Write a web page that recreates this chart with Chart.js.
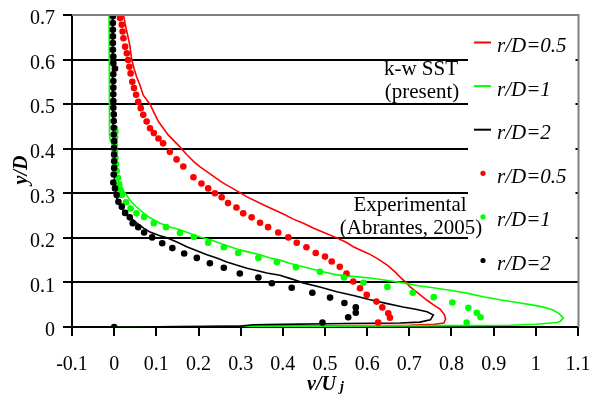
<!DOCTYPE html>
<html><head><meta charset="utf-8">
<script src="https://cdn.jsdelivr.net/npm/chart.js@4.4.0/dist/chart.umd.min.js"></script>
<style>html,body{margin:0;padding:0;background:#fff;}canvas{display:block;}</style>
</head><body>
<canvas id="c" width="590" height="396"></canvas>
<script>
// ---------- data ----------
const xTickValues = [-0.1, 0, 0.1, 0.2, 0.3, 0.4, 0.5, 0.6, 0.7, 0.8, 0.9, 1, 1.1];
const xTickLabels = ['-0.1', '0', '0.1', '0.2', '0.3', '0.4', '0.5', '0.6', '0.7', '0.8', '0.9', '1', '1.1'];
const yTickValues = [0, 0.1, 0.2, 0.3, 0.4, 0.5, 0.6, 0.7];
const yTickLabels = ['0', '0.1', '0.2', '0.3', '0.4', '0.5', '0.6', '0.7'];
const seriesLabels = ['r/D=0.5', 'r/D=1', 'r/D=2', 'r/D=0.5', 'r/D=1', 'r/D=2'];
const groupLabels = [['k-w SST', '(present)'], ['Experimental', '(Abrantes, 2005)']];
const xTitle = 'v/U';
const xTitleSub = 'j';
const yTitle = 'y/D';

// k-w SST (present), [v/Uj, y/D]
const simR05 = [[0.022,0.700],[0.026,0.680],[0.030,0.663],[0.037,0.633],[0.041,0.603],[0.047,0.580],[0.053,0.562],[0.061,0.543],[0.069,0.520],[0.085,0.500],[0.095,0.480],[0.105,0.461],[0.128,0.431],[0.152,0.408],[0.173,0.386],[0.190,0.370],[0.203,0.360],[0.230,0.342],[0.255,0.325],[0.283,0.310],[0.315,0.292],[0.345,0.278],[0.370,0.267],[0.400,0.254],[0.425,0.242],[0.450,0.232],[0.472,0.222],[0.500,0.211],[0.528,0.200],[0.550,0.190],[0.567,0.180],[0.590,0.170],[0.607,0.163],[0.630,0.150],[0.650,0.137],[0.668,0.122],[0.680,0.110],[0.692,0.100],[0.702,0.090],[0.722,0.075],[0.742,0.060],[0.760,0.048],[0.773,0.040],[0.783,0.028],[0.786,0.018],[0.782,0.009],[0.760,0.006],[0.700,0.004],[0.600,0.003],[0.400,0.002],[0.200,0.001],[0.000,0.000]];
const simR1 = [[-0.012,0.700],[-0.012,0.600],[-0.011,0.500],[-0.010,0.430],[-0.009,0.418],[-0.005,0.412],[-0.004,0.380],[-0.002,0.350],[0.003,0.335],[0.009,0.330],[0.015,0.318],[0.021,0.307],[0.030,0.295],[0.037,0.285],[0.050,0.272],[0.069,0.256],[0.085,0.245],[0.109,0.233],[0.130,0.225],[0.156,0.218],[0.180,0.210],[0.204,0.202],[0.230,0.195],[0.251,0.188],[0.275,0.180],[0.298,0.173],[0.320,0.168],[0.346,0.162],[0.370,0.155],[0.393,0.150],[0.420,0.142],[0.448,0.135],[0.490,0.125],[0.528,0.117],[0.570,0.113],[0.607,0.110],[0.645,0.105],[0.685,0.099],[0.725,0.092],[0.757,0.088],[0.800,0.082],[0.836,0.076],[0.875,0.068],[0.915,0.061],[0.955,0.055],[0.994,0.049],[1.020,0.044],[1.041,0.038],[1.055,0.030],[1.065,0.020],[1.058,0.013],[1.050,0.010],[1.000,0.006],[0.940,0.004],[0.800,0.003],[0.500,0.002],[0.200,0.001],[0.000,0.000]];
const simR2 = [[-0.004,0.700],[-0.004,0.600],[-0.003,0.500],[-0.002,0.420],[-0.001,0.380],[0.000,0.340],[0.003,0.310],[0.007,0.285],[0.014,0.272],[0.021,0.262],[0.035,0.248],[0.054,0.233],[0.070,0.222],[0.085,0.213],[0.105,0.206],[0.125,0.200],[0.150,0.190],[0.172,0.180],[0.196,0.171],[0.220,0.162],[0.245,0.154],[0.267,0.146],[0.290,0.139],[0.315,0.132],[0.340,0.126],[0.362,0.121],[0.393,0.116],[0.420,0.108],[0.448,0.099],[0.490,0.089],[0.528,0.079],[0.570,0.070],[0.607,0.061],[0.645,0.053],[0.685,0.045],[0.715,0.040],[0.742,0.034],[0.757,0.027],[0.750,0.016],[0.725,0.011],[0.678,0.009],[0.550,0.008],[0.400,0.006],[0.330,0.005],[0.300,0.002],[0.200,0.001],[0.000,0.000]];

// Experimental (Abrantes, 2005), [v/Uj, y/D]
const expR05 = [[0.014,0.693],[0.018,0.678],[0.020,0.663],[0.022,0.648],[0.026,0.629],[0.030,0.614],[0.033,0.599],[0.036,0.584],[0.039,0.569],[0.043,0.550],[0.047,0.536],[0.052,0.521],[0.057,0.505],[0.063,0.491],[0.069,0.476],[0.077,0.461],[0.085,0.446],[0.094,0.435],[0.105,0.423],[0.116,0.412],[0.132,0.393],[0.148,0.376],[0.164,0.360],[0.188,0.336],[0.207,0.322],[0.223,0.311],[0.239,0.300],[0.255,0.291],[0.270,0.278],[0.290,0.268],[0.306,0.255],[0.326,0.246],[0.346,0.234],[0.365,0.224],[0.389,0.212],[0.413,0.201],[0.433,0.189],[0.456,0.179],[0.478,0.166],[0.500,0.158],[0.516,0.147],[0.535,0.135],[0.551,0.120],[0.567,0.102],[0.583,0.087],[0.599,0.072],[0.622,0.057],[0.636,0.044],[0.650,0.031],[0.654,0.021],[0.626,0.010]];
const expR1 = [[0.002,0.445],[0.003,0.438],[0.002,0.425],[0.001,0.410],[0.002,0.395],[0.003,0.380],[0.004,0.365],[0.006,0.350],[0.009,0.335],[0.012,0.320],[0.015,0.308],[0.018,0.296],[0.028,0.280],[0.039,0.266],[0.053,0.255],[0.071,0.247],[0.094,0.233],[0.123,0.224],[0.156,0.211],[0.189,0.202],[0.223,0.189],[0.260,0.179],[0.294,0.166],[0.342,0.155],[0.386,0.146],[0.431,0.134],[0.488,0.124],[0.545,0.111],[0.591,0.099],[0.648,0.090],[0.708,0.077],[0.758,0.067],[0.802,0.055],[0.840,0.043],[0.860,0.032],[0.869,0.022],[0.836,0.010]];
const expR2 = [[-0.003,0.697],[-0.003,0.682],[-0.003,0.667],[-0.003,0.652],[-0.003,0.637],[-0.003,0.622],[-0.002,0.607],[-0.002,0.592],[0.002,0.580],[-0.002,0.567],[-0.002,0.552],[-0.002,0.537],[-0.002,0.522],[-0.002,0.507],[-0.002,0.492],[-0.001,0.477],[-0.001,0.462],[-0.001,0.447],[-0.001,0.432],[0.000,0.417],[0.000,0.402],[0.000,0.387],[0.000,0.372],[0.000,0.357],[-0.001,0.342],[-0.002,0.324],[0.002,0.311],[0.006,0.296],[0.010,0.281],[0.018,0.270],[0.026,0.256],[0.037,0.246],[0.044,0.233],[0.057,0.224],[0.071,0.212],[0.090,0.201],[0.114,0.188],[0.138,0.177],[0.166,0.165],[0.196,0.155],[0.227,0.143],[0.260,0.133],[0.298,0.120],[0.342,0.111],[0.374,0.098],[0.421,0.088],[0.470,0.077],[0.512,0.066],[0.546,0.054],[0.573,0.044],[0.573,0.032],[0.555,0.022],[0.494,0.010],[0.000,0.000]];

// ---------- styling ----------
const SERIF = "'Liberation Serif', 'Times New Roman', serif";
const RED = '#ff0000', GREEN = '#00ff00', BLACK = '#000000';
const toXY = arr => arr.map(p => ({x: p[0], y: p[1]}));

function lineDs(label, data, color, order) {
  return {label, data: toXY(data), showLine: true, borderColor: color, backgroundColor: color,
    borderWidth: 1.6, pointRadius: 0, tension: 0, order, kind: 'line'};
}
function dotDs(label, data, color, order) {
  return {label, data: toXY(data), showLine: false, pointRadius: 3.3, pointBorderWidth: 0,
    pointBackgroundColor: color, backgroundColor: color, borderColor: color, order, kind: 'dot'};
}

const datasets = [
  lineDs(seriesLabels[0], simR05, RED, 6),
  lineDs(seriesLabels[1], simR1, GREEN, 5),
  lineDs(seriesLabels[2], simR2, BLACK, 4),
  dotDs(seriesLabels[3], expR05, RED, 3),
  dotDs(seriesLabels[4], expR1, GREEN, 2),
  dotDs(seriesLabels[5], expR2, BLACK, 1)
];

const overlay = {
  id: 'overlay',
  beforeDatasetsDraw(chart) {
    const c = chart.ctx, a = chart.chartArea;
    c.save();
    c.fillStyle = '#fff';
    c.fillRect(468, a.top + 1, 575.5 - 468, 277 - a.top);
    c.restore();
  },
  afterDraw(chart) {
    const c = chart.ctx, a = chart.chartArea;
    c.save();
    // top & right frame
    c.strokeStyle = '#808080';
    c.lineWidth = 2;
    c.beginPath();
    c.moveTo(a.left, a.top);
    c.lineTo(a.right + 0.5, a.top);
    c.lineTo(a.right + 0.5, a.bottom);
    c.stroke();

    // group annotations
    c.fillStyle = '#000';
    c.textAlign = 'center';
    c.textBaseline = 'alphabetic';
    c.font = '21px ' + SERIF;
    c.fillText(groupLabels[0][0], 421, 75);
    c.fillText(groupLabels[0][1], 422, 98);
    c.fillText(groupLabels[1][0], 410, 211);
    c.fillText(groupLabels[1][1], 411, 234);

    // legend
    c.textAlign = 'left';
    c.font = 'italic 21px ' + SERIF;
    chart.data.datasets.forEach((ds, i) => {
      const base = 52 + 43.6 * i;
      const my = base - 9.5;
      if (ds.kind === 'line') {
        c.strokeStyle = ds.borderColor;
        c.lineWidth = 2;
        c.beginPath();
        c.moveTo(474, my);
        c.lineTo(491, my);
        c.stroke();
      } else {
        c.fillStyle = ds.backgroundColor;
        c.beginPath();
        c.arc(483, my, 2.6, 0, Math.PI * 2);
        c.fill();
      }
      c.fillStyle = '#000';
      c.fillText(ds.label, 497, base);
    });

    // axis titles
    c.font = 'bold italic 20px ' + SERIF;
    c.textAlign = 'left';
    c.fillText(xTitle, 307, 390);
    const w = c.measureText(xTitle).width;
    c.font = 'bold italic 14px ' + SERIF;
    c.fillText(xTitleSub, 307 + w + 4, 391);

    c.translate(27, 170);
    c.rotate(-Math.PI / 2);
    c.font = 'bold italic 20px ' + SERIF;
    c.textAlign = 'center';
    c.fillText(yTitle, 0, 0);
    c.restore();
  }
};

new Chart(document.getElementById('c'), {
  type: 'scatter',
  data: {datasets},
  plugins: [overlay],
  options: {
    responsive: false,
    animation: false,
    events: [],
    layout: {padding: {left: 0, right: 12, top: 15, bottom: 0}},
    plugins: {legend: {display: false}, tooltip: {enabled: false}},
    scales: {
      x: {
        type: 'linear', min: -0.1, max: 1.1,
        afterBuildTicks: s => { s.ticks = xTickValues.map(v => ({value: v})); },
        afterFit: s => { s.height = 396 - 327; s.paddingLeft = 0; s.paddingRight = 0; s.paddingTop = 0; s.paddingBottom = 0; },
        ticks: {
          color: '#000', padding: 17, maxRotation: 0, autoSkip: false,
          font: {family: SERIF, size: 20},
          callback: (v, i) => xTickLabels[i]
        },
        grid: {drawOnChartArea: false, drawTicks: true, tickLength: 9, tickColor: '#000', tickWidth: 2, color: '#000', lineWidth: 2},
        border: {display: true, color: '#000', width: 2}
      },
      y: {
        type: 'linear', min: 0, max: 0.7,
        afterBuildTicks: s => { s.ticks = yTickValues.map(v => ({value: v})); },
        afterFit: s => { s.width = 72; s.paddingLeft = 0; s.paddingRight = 0; s.paddingTop = 0; s.paddingBottom = 0; },
        ticks: {
          color: '#000', padding: 8, labelOffset: 4, autoSkip: false,
          font: {family: SERIF, size: 20},
          callback: (v, i) => yTickLabels[i]
        },
        grid: {
          drawOnChartArea: true, drawTicks: true, tickLength: 9, tickColor: '#000', tickWidth: 2,
          color: ctx => (ctx.tick && ctx.tick.value === 0.7) ? '#808080' : '#000',
          lineWidth: 2
        },
        border: {display: true, color: '#000', width: 2}
      }
    }
  }
});
</script>
</body></html>
